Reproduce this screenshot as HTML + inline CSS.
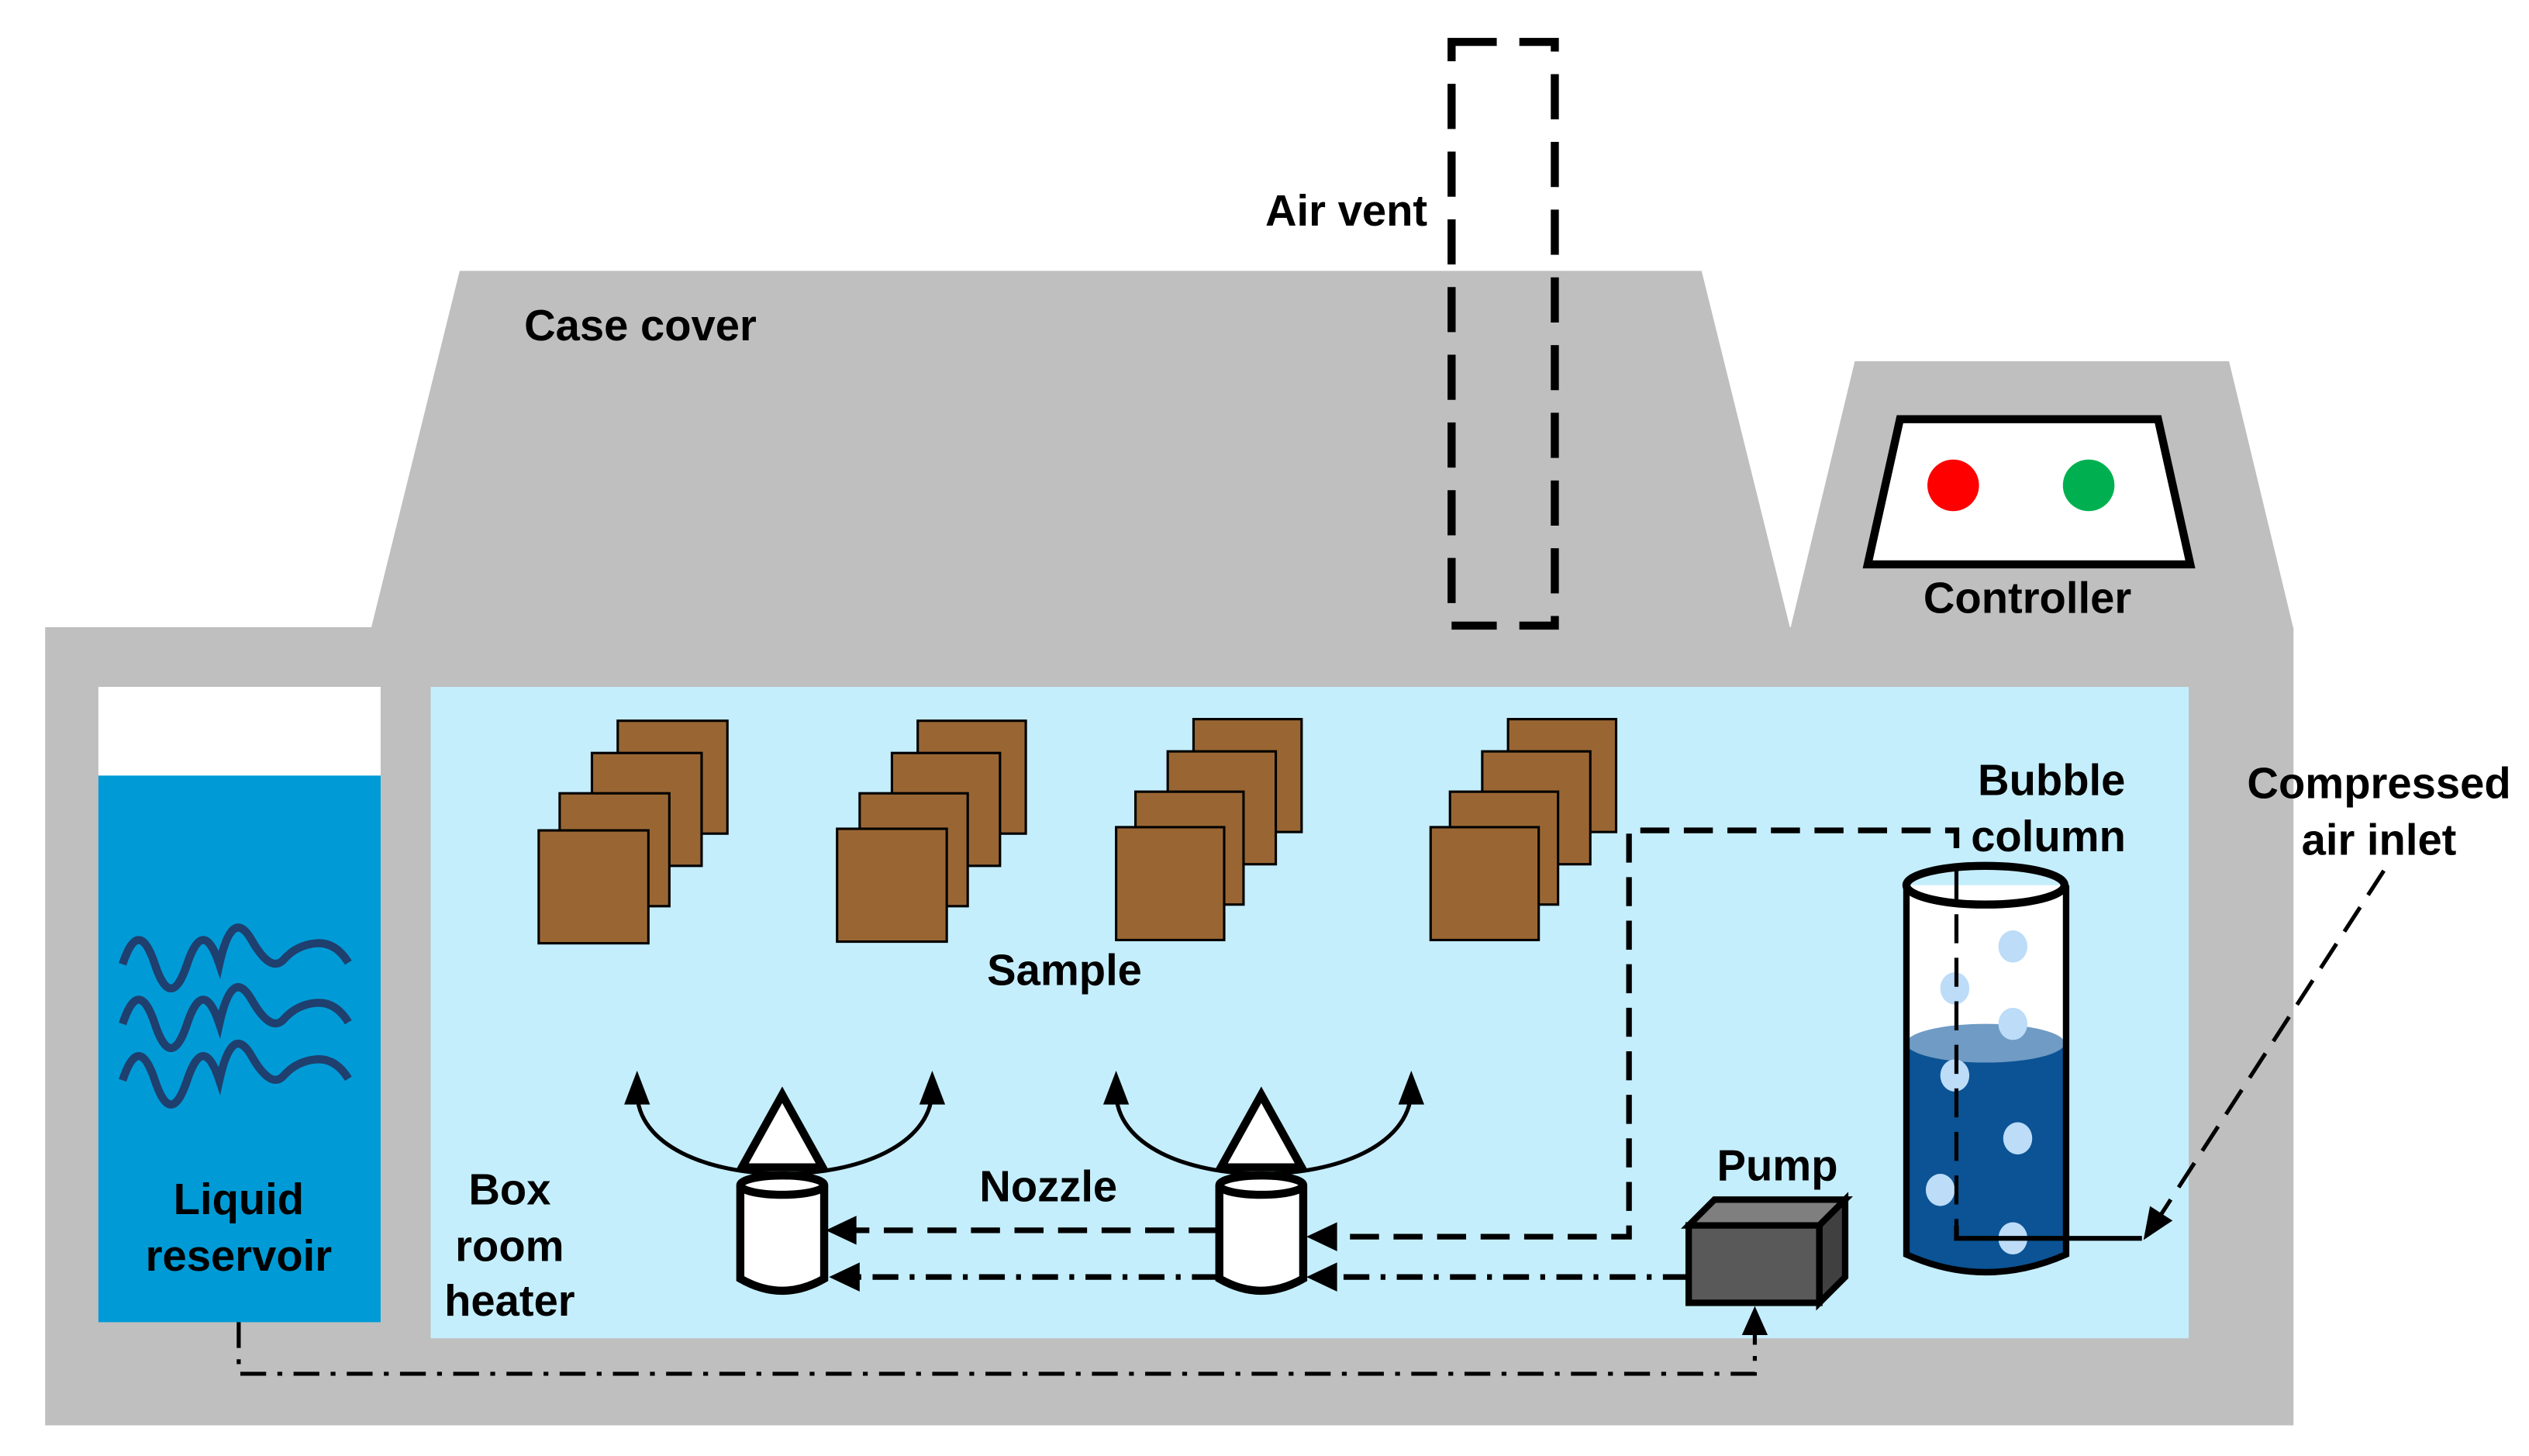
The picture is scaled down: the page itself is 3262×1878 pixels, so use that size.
<!DOCTYPE html>
<html><head><meta charset="utf-8"><style>
html,body{margin:0;padding:0;background:#fff;}
svg{display:block;}
text{font-family:"Liberation Sans",Arial,sans-serif;font-weight:bold;font-size:27px;fill:#000;}
</style></head><body>
<svg width="3262" height="1878" viewBox="0 0 1568 903" preserveAspectRatio="none" xmlns="http://www.w3.org/2000/svg">
<!-- housings -->
<polygon points="230,390 285,168 1055,168 1110,390" fill="#bfbfbf"/>
<polygon points="1110,390 1150,224 1382,224 1422,390" fill="#bfbfbf"/>
<rect x="28" y="389" width="1394" height="495" fill="#bfbfbf"/>
<!-- controller -->
<polygon points="1158,350 1178,260 1338,260 1358,350" fill="#fff" stroke="#000" stroke-width="5"/>
<ellipse cx="1211" cy="301" rx="16" ry="16" fill="#ff0000"/>
<ellipse cx="1295" cy="301" rx="16" ry="16" fill="#00b050"/>
<!-- air vent -->
<rect x="900" y="26" width="64" height="362" fill="none" stroke="#000" stroke-width="5" stroke-dasharray="28,14"/>
<!-- reservoir -->
<rect x="61" y="426" width="175" height="56" fill="#fff"/>
<rect x="61" y="481" width="175" height="339" fill="#009bd6"/>
<g fill="none" stroke="#1f3f6e" stroke-width="5">
<path d="M76,598 q10,-30 20,0 t20,0 t20,0 q8,-36 20,-15 t20,12 t20,-10 t20,12 "/>
<path d="M76,635 q10,-30 20,0 t20,0 t20,0 q8,-36 20,-15 t20,12 t20,-10 t20,12 "/>
<path d="M76,670 q10,-30 20,0 t20,0 t20,0 q8,-36 20,-15 t20,12 t20,-10 t20,12 "/>
</g>
<!-- chamber -->
<rect x="267" y="426" width="1090" height="404" fill="#c5eefc"/>
<!-- samples -->
<g fill="#996633" stroke="#000" stroke-width="1.5">
<rect x="383" y="447" width="68" height="70"/><rect x="367" y="467" width="68" height="70"/><rect x="347" y="492" width="68" height="70"/><rect x="334" y="515" width="68" height="70"/>
<rect x="569" y="447" width="67" height="70"/><rect x="553" y="467" width="67" height="70"/><rect x="533" y="492" width="67" height="70"/><rect x="519" y="514" width="68" height="70"/>
<rect x="740" y="446" width="67" height="70"/><rect x="724" y="466" width="67" height="70"/><rect x="704" y="491" width="67" height="70"/><rect x="692" y="513" width="67" height="70"/>
<rect x="935" y="446" width="67" height="70"/><rect x="919" y="466" width="67" height="70"/><rect x="899" y="491" width="67" height="70"/><rect x="887" y="513" width="67" height="70"/>
</g>
<!-- connectors -->
<g fill="none" stroke="#000" stroke-width="3.5">
<polyline points="1213,526 1213,515 1010,515 1010,767 826,767" stroke-dasharray="18,9"/>
<line x1="755" y1="763" x2="528" y2="763" stroke-dasharray="18,9"/>
<line x1="1047" y1="792" x2="826" y2="792" stroke-dasharray="16,7,3,7"/>
<line x1="755" y1="792" x2="530" y2="792" stroke-dasharray="16,7,3,7"/>
<polyline points="148,820 148,852 1088,852 1088,824" stroke-width="2.5" stroke-dasharray="16,7,3,7"/>
<path d="M395,677 C395,745 575,745 578,677" stroke-width="2.5"/>
<path d="M692,677 C692,745 872,745 875,677" stroke-width="2.5"/>
</g>
<g fill="#000">
<polygon points="395,664 387,685 403,685"/><polygon points="578,664 570,685 586,685"/>
<polygon points="692,664 684,685 700,685"/><polygon points="875,664 867,685 883,685"/>
<polygon points="810,767 829,758 829,776"/>
<polygon points="512,763 531,754 531,772"/>
<polygon points="810,792 829,783 829,801"/>
<polygon points="514,792 533,783 533,801"/>
<polygon points="1088,810 1080,828 1096,828"/>
<polygon points="1329,769 1347,757 1333,748"/>
</g>
<!-- nozzles -->
<g stroke="#000" stroke-width="5" fill="#fff">
<path d="M459,735 L459,793 Q485,808 511,793 L511,735"/>
<ellipse cx="485" cy="735" rx="26" ry="6"/>
<polygon points="485,679 460,724 510,724"/>
<path d="M756,735 L756,793 Q782,808 808,793 L808,735"/>
<ellipse cx="782" cy="735" rx="26" ry="6"/>
<polygon points="782,679 757,724 807,724"/>
</g>
<!-- pump -->
<polygon points="1047,760 1063,744 1144,744 1128,760" fill="#7f7f7f" stroke="#000" stroke-width="4"/>
<polygon points="1128,760 1144,744 1144,792 1128,808" fill="#404040" stroke="#000" stroke-width="4"/>
<rect x="1047" y="760" width="81" height="48" fill="#595959" stroke="#000" stroke-width="4"/>
<!-- bubble column -->
<path d="M1182,549 L1182,778 Q1231,800 1281,778 L1281,549 Z" fill="#fff"/>
<path d="M1182,647 L1182,778 Q1231,800 1281,778 L1281,647 Z" fill="#0b5394"/>
<ellipse cx="1231" cy="647" rx="49" ry="12" fill="#6f9bc4"/>
<g fill="#bcdcf8">
<ellipse cx="1248" cy="587" rx="9" ry="10"/><ellipse cx="1212" cy="613" rx="9" ry="10"/><ellipse cx="1248" cy="635" rx="9" ry="10"/>
<ellipse cx="1212" cy="667" rx="9" ry="10"/><ellipse cx="1251" cy="706" rx="9" ry="10"/><ellipse cx="1203" cy="738" rx="9" ry="10"/><ellipse cx="1248" cy="768" rx="9" ry="10"/>
</g>
<path d="M1182,549 L1182,778 Q1231,800 1281,778 L1281,549" fill="none" stroke="#000" stroke-width="4"/>
<ellipse cx="1231" cy="549" rx="49" ry="12" fill="none" stroke="#000" stroke-width="5"/>
<line x1="1213" y1="540" x2="1213" y2="768" stroke="#000" stroke-width="2.5" stroke-dasharray="18,9"/>
<polyline points="1213,760 1213,768 1328,768" fill="none" stroke="#000" stroke-width="3"/>
<line x1="1478" y1="540" x2="1340" y2="753" stroke="#000" stroke-width="2.5" stroke-dasharray="18,9"/>
<!-- labels -->
<text x="325" y="211">Case cover</text>
<text x="885" y="140" text-anchor="end">Air vent</text>
<text x="1257" y="380" text-anchor="middle">Controller</text>
<text x="1272" y="493" text-anchor="middle">Bubble</text>
<text x="1270" y="528" text-anchor="middle">column</text>
<text x="1475" y="495" text-anchor="middle">Compressed</text>
<text x="1475" y="530" text-anchor="middle">air inlet</text>
<text x="660" y="611" text-anchor="middle">Sample</text>
<text x="650" y="745" text-anchor="middle">Nozzle</text>
<text x="316" y="747" text-anchor="middle">Box</text>
<text x="316" y="782" text-anchor="middle">room</text>
<text x="316" y="816" text-anchor="middle">heater</text>
<text x="148" y="753" text-anchor="middle">Liquid</text>
<text x="148" y="788" text-anchor="middle">reservoir</text>
<text x="1102" y="732" text-anchor="middle">Pump</text>
</svg>
</body></html>
